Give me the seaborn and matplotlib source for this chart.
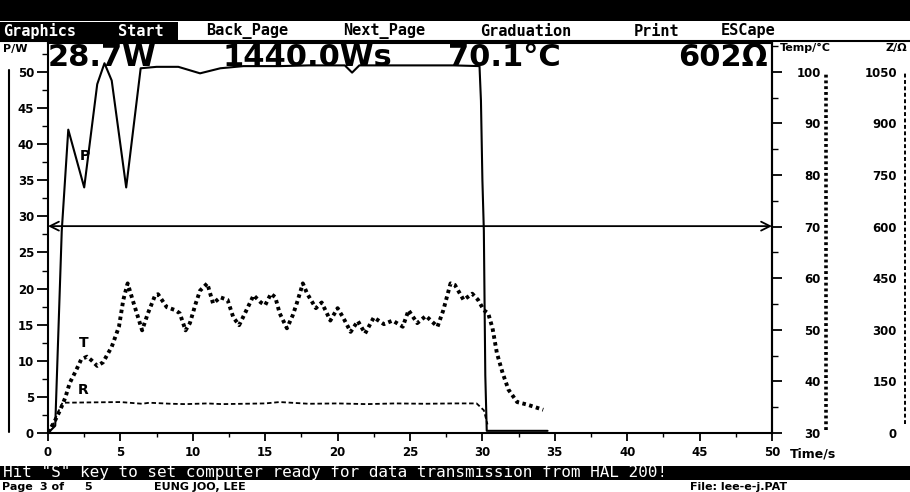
import matplotlib
matplotlib.use("Agg")
import matplotlib.pyplot as plt
import seaborn as sns
import pandas as pd
from matplotlib.ticker import MultipleLocator
from matplotlib.patches import Rectangle
from matplotlib.lines import Line2D

# power P/W (solid)
p_time = [0.0, 0.5, 0.95, 1.4, 2.5, 3.4, 3.9, 4.4, 5.4, 6.4, 7.5, 9.0, 10.5, 11.9, 13.5,
          16.0, 18.0, 20.5, 21.0, 21.5, 23.0, 26.0, 28.0, 29.8, 29.9, 30.0, 30.1, 30.2, 30.3, 34.5]
p_watt = [0.0, 1.0, 28.0, 42.0, 34.0, 48.3, 51.2, 48.8, 34.0, 50.5, 50.7, 50.7, 49.8, 50.5, 50.8,
          50.8, 50.9, 50.9, 49.9, 50.9, 50.9, 50.9, 50.9, 50.8, 46.0, 35.0, 28.0, 8.0, 0.3, 0.3]

# temperature T/degC (dotted)
t_time = [0.0, 0.5, 0.85, 1.2, 1.5, 1.9, 2.3, 2.7, 3.0, 3.4, 3.8, 4.4, 4.9, 5.2, 5.5, 5.9,
          6.5, 6.9, 7.4, 7.6, 8.2, 8.8, 9.1, 9.5, 9.8, 10.2, 10.5, 11.0, 11.4, 11.9, 12.4,
          12.8, 13.2, 13.6, 14.2, 14.7, 15.0, 15.4, 15.7, 16.0, 16.5, 16.9, 17.2, 17.6, 17.9,
          18.5, 18.9, 19.5, 20.0, 20.4, 20.9, 21.4, 21.9, 22.5, 23.2, 23.8, 24.5, 24.9, 25.5,
          26.1, 26.9, 27.3, 27.8, 28.1, 28.7, 29.3, 29.7, 30.1, 30.4, 30.7, 31.0, 31.4, 31.8,
          32.4, 33.1, 34.2]
t_degc = [30.0, 32.5, 34.5, 36.9, 39.7, 41.9, 44.3, 44.8, 44.1, 43.0, 43.7, 46.7, 50.6, 55.8,
          59.0, 55.3, 49.9, 53.2, 56.7, 56.9, 54.4, 53.8, 53.2, 49.9, 51.3, 55.1, 57.6, 59.0,
          55.1, 56.3, 55.8, 52.4, 50.9, 53.2, 56.7, 55.3, 54.8, 57.0, 56.3, 53.2, 50.3, 52.8,
          55.3, 59.0, 57.0, 54.2, 55.3, 51.8, 54.2, 52.3, 49.6, 51.7, 49.3, 52.4, 51.1, 51.8,
          50.6, 53.8, 51.3, 52.7, 50.6, 53.8, 59.0, 58.7, 55.8, 57.0, 55.8, 53.8, 53.2, 50.3,
          45.5, 41.6, 38.4, 36.0, 35.5, 34.5]

# impedance R/Ohm (dashed)
r_time = [0.0, 0.4, 0.7, 1.0, 5.0, 6.5, 7.0, 8.5, 9.5, 11.0, 12.0, 15.0, 16.0, 18.0, 20.0,
          22.0, 24.0, 26.0, 28.0, 29.6, 30.1, 30.35]
r_ohm = [0, 30, 61, 88, 90, 85, 88, 85, 84, 86, 84, 86, 90, 85, 86, 84, 86, 85, 86, 86, 66, 25]

x_ticks = [0, 5, 10, 15, 20, 25, 30, 35, 40, 45, 50]
p_ticks = [0, 5, 10, 15, 20, 25, 30, 35, 40, 45, 50]
temp_ticks = [30, 40, 50, 60, 70, 80, 90, 100]
z_ticks = [0, 150, 300, 450, 600, 750, 900, 1050]

cursor_temp = 70.1
readout = ["28.7W", "1440.0Ws", "70.1°C", "602Ω"]
menu_items = ["Back_Page", "Next_Page", "Graduation", "Print", "ESCape"]
status_msg = 'Hit "S" key to set computer ready for data transmission from HAL 200!'

W, H = 910, 492


def fx(x):
    return x / W


def fy(y):
    return 1 - y / H


sns.set_theme(style="white")
plt.rcParams["font.family"] = ["DejaVu Sans", "Noto Sans"]
plt.rcParams["axes.edgecolor"] = "black"
plt.rcParams["text.color"] = "black"
plt.rcParams["axes.labelcolor"] = "black"
plt.rcParams["xtick.color"] = "black"
plt.rcParams["ytick.color"] = "black"

fig = plt.figure(figsize=(9.1, 4.92), dpi=100)
fig.patch.set_facecolor("white")

ax = fig.add_axes([fx(48), fy(433), fx(772 - 48), (433 - 43) / H])
ax.set_xlim(0, 50)
ax.set_ylim(0, 54)

df_p = pd.DataFrame({"t": p_time, "v": p_watt})
df_t = pd.DataFrame({"t": t_time, "v": t_degc})
df_r = pd.DataFrame({"t": r_time, "v": r_ohm})

sns.lineplot(data=df_p, x="t", y="v", ax=ax, color="black", lw=1.5,
             estimator=None, sort=False)

ax_t = ax.twinx()
ax_t.set_ylim(30, 30 + 54 * 1.4)
sns.lineplot(data=df_t, x="t", y="v", ax=ax_t, color="black", lw=2.8,
             linestyle=(0, (0.9, 0.9)), estimator=None, sort=False)

ax_z = ax.twinx()
ax_z.set_ylim(0, 54 * 21)
sns.lineplot(data=df_r, x="t", y="v", ax=ax_z, color="black", lw=1.3,
             linestyle=(0, (2.5, 1.5)), estimator=None, sort=False)

# main axes: P and time
for s in ax.spines.values():
    s.set_linewidth(1.5)
    s.set_color("black")
ax.set_xticks(x_ticks)
ax.set_yticks(p_ticks)
ax.xaxis.set_minor_locator(MultipleLocator(2.5))
ax.yaxis.set_minor_locator(MultipleLocator(2.5))
ax.tick_params(axis="x", which="major", direction="out", length=6, width=1.3, pad=3,
               labelsize=8.5, bottom=True, top=False)
ax.tick_params(axis="x", which="minor", direction="out", length=3, width=1.0, bottom=True, top=False)
ax.tick_params(axis="y", which="major", direction="out", length=8, width=1.3, pad=2,
               labelsize=8.5, left=True, right=False)
ax.tick_params(axis="y", which="minor", direction="out", length=4, width=1.0, left=True, right=False)
for lab in ax.get_xticklabels() + ax.get_yticklabels():
    lab.set_fontweight("bold")
ax.set_xlabel("")
ax.set_ylabel("")

# temperature axis
for k in ["top", "bottom", "left"]:
    ax_t.spines[k].set_visible(False)
ax_t.spines["right"].set_linewidth(1.5)
ax_t.set_yticks(temp_ticks)
ax_t.yaxis.set_minor_locator(MultipleLocator(5))
ax_t.yaxis.set_ticks_position("right")
ax_t.tick_params(axis="y", which="major", direction="out", length=7, width=1.3, pad=28,
                 labelsize=8.5, right=True, left=False)
ax_t.tick_params(axis="y", which="minor", direction="out", length=4, width=1.0, right=True, left=False)
plt.setp(ax_t.get_yticklabels(), ha="right", fontweight="bold")
ax_t.set_ylabel("")
# dotted scale bar beside the temperature labels
ax_t.plot([(826 - 48) / 724] * 2, [30.5, 100], transform=ax_t.get_yaxis_transform(),
          clip_on=False, color="black", lw=2.6, linestyle=(0, (0.8, 0.8)))

# impedance axis
for k in ["top", "bottom", "left", "right"]:
    ax_z.spines[k].set_visible(False)
ax_z.set_yticks(z_ticks)
ax_z.tick_params(axis="y", which="major", length=0, pad=(897 - 772) * 0.72, labelsize=8.5)
plt.setp(ax_z.get_yticklabels(), ha="right", fontweight="bold")
ax_z.set_ylabel("")
ax_z.plot([(905 - 48) / 724] * 2, [25, 1050], transform=ax_z.get_yaxis_transform(),
          clip_on=False, color="black", lw=1.4, linestyle=(0, (2.0, 1.3)))

# cursor line with arrowheads
ax_t.annotate("", xy=(0, cursor_temp), xytext=(1, cursor_temp),
              xycoords=("axes fraction", "data"), textcoords=("axes fraction", "data"),
              arrowprops=dict(arrowstyle="<->", lw=1.3, color="black",
                              shrinkA=0, shrinkB=0, mutation_scale=16))

# curve labels
ax.text(2.55, 38.4, "P", fontsize=10, fontweight="bold", ha="center", va="center")
ax.text(2.45, 12.4, "T", fontsize=10, fontweight="bold", ha="center", va="center")
ax.text(2.45, 5.9, "R", fontsize=10, fontweight="bold", ha="center", va="center")

# readouts
big = dict(fontsize=22, fontweight="bold", va="center", family=["DejaVu Sans", "Noto Sans"])
fig.text(fx(48), fy(57), readout[0], ha="left", **big)
fig.text(fx(222), fy(57), readout[1], ha="left", **big)
fig.text(fx(448), fy(57), readout[2], ha="left", **big)
fig.text(fx(768), fy(57), readout[3], ha="right", **big)

small = dict(fontsize=8, fontweight="bold", va="center")
fig.text(fx(3), fy(49), "P/W", ha="left", **small)
fig.text(fx(780), fy(48), "Temp/°C", ha="left", **small)
fig.text(fx(907), fy(48), "Z/Ω", ha="right", **small)
fig.text(fx(790), fy(454), "Time/s", ha="left", fontsize=9, fontweight="bold", va="center")

# top bars
fig.add_artist(Rectangle((0, fy(21)), 1, 21 / H, transform=fig.transFigure,
                         facecolor="black", edgecolor="none"))
fig.add_artist(Rectangle((0, fy(40)), fx(178), 18 / H, transform=fig.transFigure,
                         facecolor="black", edgecolor="none"))
menu = dict(fontsize=11, fontweight="bold", va="center", family="DejaVu Sans Mono")
fig.text(fx(3), fy(31), "Graphics", ha="left", color="white", **menu)
fig.text(fx(118), fy(31), "Start", ha="left", color="white", **menu)
for name, xpos in zip(menu_items, [206, 343, 480, 634, 721]):
    fig.text(fx(xpos), fy(31), name, ha="left", color="black", **menu)
fig.add_artist(Line2D([0, 1], [fy(41), fy(41)], transform=fig.transFigure,
                      color="black", lw=1.5))
fig.add_artist(Line2D([fx(9), fx(9)], [fy(70), fy(432)], transform=fig.transFigure,
                      color="black", lw=1.5))

# bottom status bars
fig.add_artist(Rectangle((0, fy(480)), 1, 14 / H, transform=fig.transFigure,
                         facecolor="black", edgecolor="none"))
fig.text(fx(3), fy(473), status_msg, ha="left", va="center", color="white",
         fontsize=11.5, family="DejaVu Sans Mono")
foot = dict(fontsize=8, fontweight="bold", va="center", ha="left")
fig.text(fx(2), fy(486.5), "Page", **foot)
fig.text(fx(40), fy(486.5), "3 of", **foot)
fig.text(fx(84), fy(486.5), "5", **foot)
fig.text(fx(154), fy(486.5), "EUNG JOO, LEE", **foot)
fig.text(fx(690), fy(486.5), "File: lee-e-j.PAT", **foot)

fig.savefig("out.png", dpi=100)
